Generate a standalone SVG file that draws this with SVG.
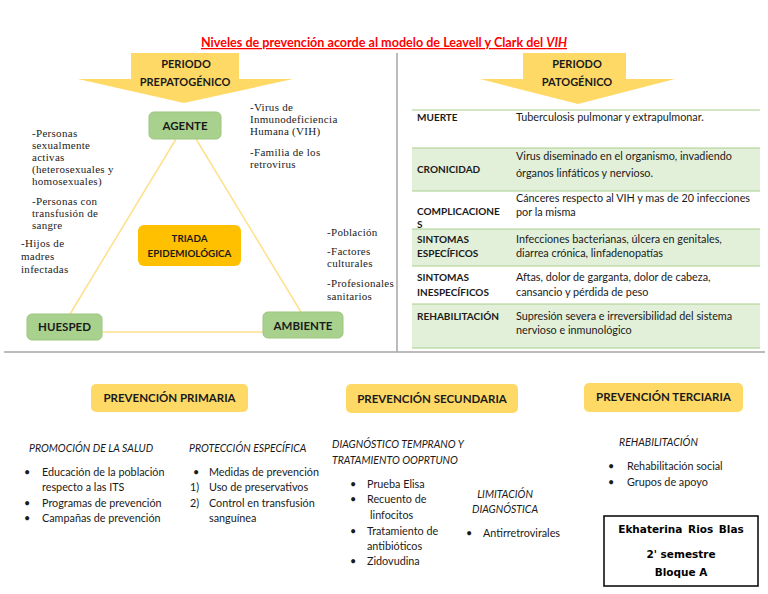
<svg xmlns="http://www.w3.org/2000/svg" width="768" height="594" viewBox="0 0 768 594">
<style>
.t{font-family:Lato,"Liberation Sans",sans-serif;fill:#1a1a1a}
.b{font-weight:bold}
.i{font-style:italic}
.c{text-anchor:middle}
.s{font-family:"Liberation Serif","DejaVu Serif",serif;font-size:11px;letter-spacing:0.3px;fill:#222}
.tb{font-size:10.8px}
.tb .b{font-size:10px}
.bd{font-size:10.8px}
.hd{font-size:10.5px;font-style:italic}
.node{fill:#A9D18E;stroke:#9CC57F;stroke-width:1}
.prev{fill:#FFD966}
.arrow{fill:#FFD966}
.tri{stroke:#FFE08A;stroke-width:1.5;fill:none}
.div{stroke:#A6A6A6;stroke-width:1.5;fill:none}
.row{fill:#E2EFD9}
.rl{stroke:#A8D08D;stroke-width:1}
</style>
<rect width="768" height="594" fill="#fff"/>

<text class="t b c" x="384" y="47" font-size="12.6" style="fill:#FF0000;text-decoration:underline">Niveles de prevención acorde al modelo de Leavell y Clark del <tspan font-style="italic">VIH</tspan></text>

<g id="dividers">
<path class="div" d="M397 53 V352 M4 352 H765"/>
</g>

<g id="arrow-prepatogenico">
<polygon class="arrow" points="131,53 239,53 239,79 293,79 184,103 78,79 131,79"/>
<text class="t b c" x="186" y="68" font-size="11">PERIODO</text>
<text class="t b c" x="185" y="86" font-size="11">PREPATOGÉNICO</text>
</g>
<g id="arrow-patogenico">
<polygon class="arrow" points="523,53 626,53 626,79 675,79 578,104 480,79 523,79"/>
<text class="t b c" x="577" y="68" font-size="11">PERIODO</text>
<text class="t b c" x="577" y="86" font-size="11">PATOGÉNICO</text>
</g>

<g id="connectors">
<line class="tri" x1="176" y1="139" x2="70" y2="314"/>
<line class="tri" x1="196" y1="139" x2="301" y2="312"/>
<line class="tri" x1="102" y1="332" x2="263" y2="332"/>
</g>

<g id="agente">
<rect class="node" x="149" y="112" width="72" height="27" rx="5"/>
<text class="t b c" x="185" y="130" font-size="11.5">AGENTE</text>
</g>
<g id="huesped">
<rect class="node" x="27" y="314" width="75" height="26" rx="5"/>
<text class="t b c" x="64.5" y="331" font-size="11.5">HUESPED</text>
</g>
<g id="ambiente">
<rect class="node" x="263" y="312" width="80" height="26" rx="5"/>
<text class="t b c" x="303" y="330" font-size="11.5">AMBIENTE</text>
</g>
<g id="triada">
<rect x="138" y="225" width="103" height="41" rx="6" fill="#FFC000"/>
<text class="t b c" x="189.5" y="242" font-size="9.8">TRIADA</text>
<text class="t b c" x="189.5" y="257" font-size="9.8">EPIDEMIOLÓGICA</text>
</g>

<g id="notes-huesped">
<rect x="30" y="196" width="80" height="36" fill="#fff"/>
<text class="s"><tspan x="32" y="137">-Personas</tspan><tspan x="32" y="149">sexualmente</tspan><tspan x="32" y="161">activas</tspan><tspan x="32" y="173">(heterosexuales y</tspan><tspan x="32" y="185">homosexuales)</tspan></text>
<text class="s"><tspan x="32" y="205">-Personas con</tspan><tspan x="32" y="217">transfusión de</tspan><tspan x="32" y="229">sangre</tspan></text>
<text class="s"><tspan x="21" y="247">-Hijos de</tspan><tspan x="21" y="260">madres</tspan><tspan x="21" y="273">infectadas</tspan></text>
</g>
<g id="notes-agente">
<text class="s"><tspan x="250" y="111">-Virus de</tspan><tspan x="250" y="123">Inmunodeficiencia</tspan><tspan x="250" y="135">Humana (VIH)</tspan><tspan x="250" y="156">-Familia de los</tspan><tspan x="250" y="168">retrovirus</tspan></text>
</g>
<g id="notes-ambiente">
<text class="s"><tspan x="327" y="236">-Población</tspan><tspan x="327" y="255">-Factores</tspan><tspan x="327" y="267">culturales</tspan><tspan x="327" y="287">-Profesionales</tspan><tspan x="327" y="300">sanitarios</tspan></text>
</g>

<g id="tabla-patogenico">
<rect class="row" x="412" y="148" width="348" height="43"/>
<rect class="row" x="412" y="229" width="348" height="37"/>
<rect class="row" x="412" y="304" width="348" height="44"/>
<path class="rl" d="M412 110 H760 M412 148 H760 M412 191 H760 M412 229 H760 M412 266 H760 M412 304 H760 M412 348 H760"/>
<g class="t tb">
<text class="b" x="417" y="121">MUERTE</text>
<text x="516" y="121">Tuberculosis pulmonar y extrapulmonar.</text>
<text class="b" x="417" y="173">CRONICIDAD</text>
<text x="516" y="160">Virus diseminado en el organismo, invadiendo</text>
<text x="516" y="177">órganos linfáticos y nervioso.</text>
<text class="b" x="417" y="215">COMPLICACIONE</text>
<text class="b" x="417" y="228">S</text>
<text x="516" y="202">Cánceres respecto al VIH y mas de 20 infecciones</text>
<text x="516" y="216">por la misma</text>
<text class="b" x="417" y="243">SINTOMAS</text>
<text class="b" x="417" y="257">ESPECÍFICOS</text>
<text x="516" y="243">Infecciones bacterianas, úlcera en genitales,</text>
<text x="516" y="257">diarrea crónica, linfadenopatías</text>
<text class="b" x="417" y="281">SINTOMAS</text>
<text class="b" x="417" y="296">INESPECÍFICOS</text>
<text x="516" y="281">Aftas, dolor de garganta, dolor de cabeza,</text>
<text x="516" y="296">cansancio y pérdida de peso</text>
<text class="b" x="417" y="320">REHABILITACIÓN</text>
<text x="516" y="320">Supresión severa e irreversibilidad del sistema</text>
<text x="516" y="334">nervioso e inmunológico</text>
</g>
</g>

<g id="prevencion-primaria">
<rect class="prev" x="91" y="384" width="157" height="28" rx="5"/>
<text class="t b c" x="169.5" y="402" font-size="11.5">PREVENCIÓN PRIMARIA</text>
<text class="t hd" x="29" y="452">PROMOCIÓN DE LA SALUD</text>
<g class="t bd">
<text x="24" y="476">•</text><text x="42" y="476">Educación de la población</text>
<text x="42" y="491">respecto a las ITS</text>
<text x="24" y="507">•</text><text x="42" y="507">Programas de prevención</text>
<text x="24" y="522">•</text><text x="42" y="522">Campañas de prevención</text>
</g>
<text class="t hd" x="189" y="452">PROTECCIÓN ESPECÍFICA</text>
<g class="t bd">
<text x="193" y="476">•</text><text x="209" y="476">Medidas de prevención</text>
<text x="190" y="491">1)</text><text x="209" y="491">Uso de preservativos</text>
<text x="190" y="507">2)</text><text x="209" y="507">Control en transfusión</text>
<text x="209" y="522">sanguínea</text>
</g>
</g>

<g id="prevencion-secundaria">
<rect class="prev" x="346" y="384" width="172" height="29" rx="5"/>
<text class="t b c" x="432" y="403" font-size="11.5">PREVENCIÓN SECUNDARIA</text>
<text class="t hd" x="332" y="448">DIAGNÓSTICO TEMPRANO Y</text>
<text class="t hd" x="332" y="464">TRATAMIENTO OOPRTUNO</text>
<g class="t bd">
<text x="350" y="488">•</text><text x="367" y="488">Prueba Elisa</text>
<text x="350" y="503">•</text><text x="367" y="503">Recuento de</text>
<text x="370" y="519">linfocitos</text>
<text x="350" y="535">•</text><text x="367" y="535">Tratamiento de</text>
<text x="367" y="550">antibióticos</text>
<text x="350" y="565">•</text><text x="367" y="565">Zidovudina</text>
</g>
<text class="t hd c" x="505" y="498">LIMITACIÓN</text>
<text class="t hd c" x="505" y="513">DIAGNÓSTICA</text>
<g class="t bd">
<text x="466" y="537">•</text><text x="483" y="537">Antirretrovirales</text>
</g>
</g>

<g id="prevencion-terciaria">
<rect class="prev" x="584" y="383" width="159" height="29" rx="5"/>
<text class="t b c" x="663.5" y="401" font-size="11.5">PREVENCIÓN TERCIARIA</text>
<text class="t hd" x="619" y="446">REHABILITACIÓN</text>
<g class="t bd">
<text x="608" y="470">•</text><text x="627" y="470">Rehabilitación social</text>
<text x="608" y="486">•</text><text x="627" y="486">Grupos de apoyo</text>
</g>
</g>

<g id="autor">
<rect x="604" y="516" width="154" height="70" fill="#fff" stroke="#000" stroke-width="1.5"/>
<g font-family="'DejaVu Sans',sans-serif" font-weight="bold" font-size="10.5" text-anchor="middle" fill="#000">
<text x="681" y="533" word-spacing="2">Ekhaterina Rios Blas</text>
<text x="681" y="558">2' semestre</text>
<text x="681" y="576">Bloque A</text>
</g>
</g>
</svg>
